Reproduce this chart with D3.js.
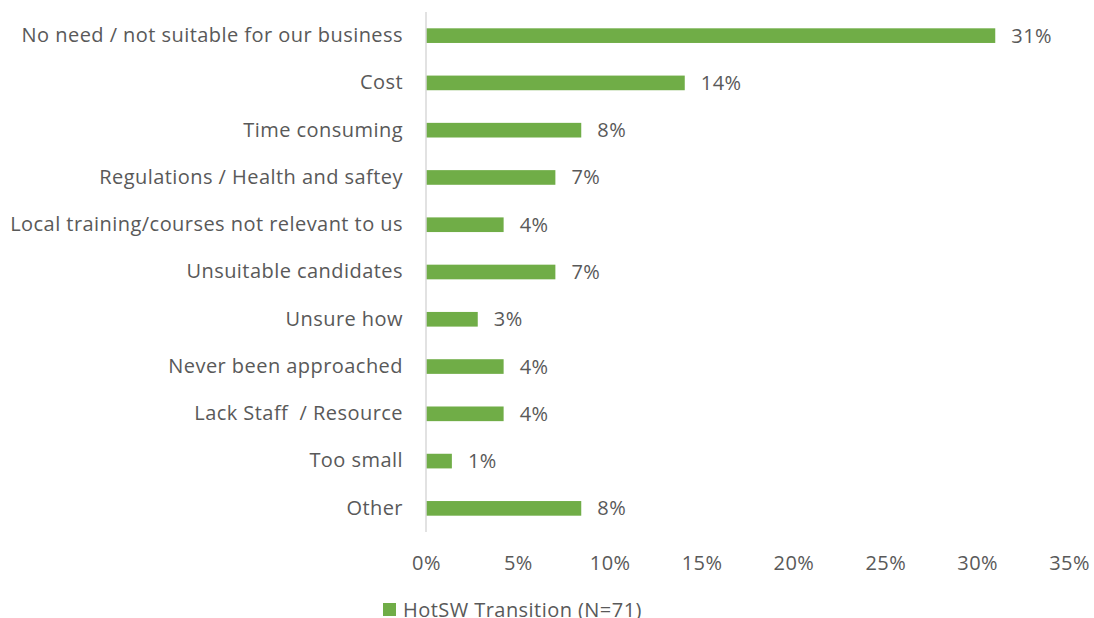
<!DOCTYPE html>
<html>
<head>
<meta charset="utf-8">
<script src="https://cdn.jsdelivr.net/npm/d3@7"></script>
<style>
  html, body { margin: 0; padding: 0; background: #fff; }
  svg { display: block; }
  text { font-family: "Open Sans", sans-serif; fill: #595959; white-space: pre; letter-spacing: 0.45px; }
</style>
</head>
<body>
<svg id="chart" width="1094" height="618"></svg>
<script>
// Reasons given by respondents (count out of N)
const categories = [
  "No need / not suitable for our business",
  "Cost",
  "Time consuming",
  "Regulations / Health and saftey",
  "Local training/courses not relevant to us",
  "Unsuitable candidates",
  "Unsure how",
  "Never been approached",
  "Lack Staff  / Resource",
  "Too small",
  "Other"
];
const counts = [22, 10, 6, 5, 3, 5, 2, 3, 3, 1, 6];
const totalN = 71;
const seriesName = "HotSW Transition (N=71)";
const xTicks = [0, 0.05, 0.10, 0.15, 0.20, 0.25, 0.30, 0.35];

const shares = counts.map(c => c / totalN);

const svg = d3.select("#chart");
const margin = { left: 426, right: 24, top: 12, bottom: 86 };
const W = 1094, H = 618;
const fontSize = 20;
const fontFamily = "'Open Sans', sans-serif";
const barColor = "#70AD47";

const x = d3.scaleLinear().domain([0, 0.35]).range([margin.left, 1069]);
const y = d3.scaleBand().domain(categories)
  .range([margin.top, H - margin.bottom]).paddingInner(0.69).paddingOuter(0.345);

// Bars
svg.append("g").selectAll("rect").data(categories).join("rect")
  .attr("x", x(0))
  .attr("y", d => y(d))
  .attr("width", (d, i) => x(shares[i]) - x(0))
  .attr("height", y.bandwidth())
  .attr("fill", barColor);

// Value labels
const fmt = d3.format(".0%");
svg.append("g").selectAll("text").data(categories).join("text")
  .attr("x", (d, i) => x(shares[i]) + 16)
  .attr("y", d => y(d) + y.bandwidth() / 2)
  .attr("dy", "0.35em")
  .attr("font-size", fontSize)
  .text((d, i) => fmt(shares[i]));

// Category axis (left)
const yAxis = svg.append("g")
  .attr("transform", `translate(${x(0)},0)`)
  .call(d3.axisLeft(y).tickSize(0).tickPadding(23));
yAxis.select(".domain").attr("stroke", "#d9d9d9").attr("stroke-width", 1.5)
  .attr("d", `M0,${margin.top}V${H - margin.bottom}`);
yAxis.selectAll("text").attr("font-size", fontSize).attr("fill", "#595959")
  .style("font-family", fontFamily).style("white-space", "pre");

// Value axis (bottom, labels only)
const xAxis = svg.append("g")
  .attr("transform", `translate(0,${H - margin.bottom})`)
  .call(d3.axisBottom(x).tickValues(xTicks).tickFormat(d3.format(".0%")).tickSize(0).tickPadding(24));
xAxis.select(".domain").remove();
xAxis.selectAll("text").attr("font-size", fontSize).attr("fill", "#595959")
  .style("font-family", fontFamily);

// Legend
const legend = svg.append("g").attr("transform", "translate(383,603)");
legend.append("rect").attr("width", 13).attr("height", 13).attr("fill", barColor);
legend.append("text").attr("x", 20).attr("y", 6.5).attr("dy", "0.35em")
  .attr("font-size", fontSize).text(seriesName);
</script>
</body>
</html>
